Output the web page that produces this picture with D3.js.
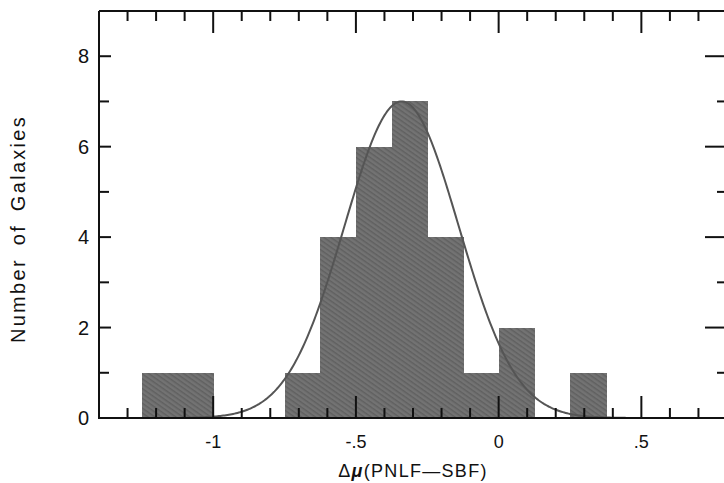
<!DOCTYPE html>
<html lang="en">
<head>
<meta charset="UTF-8">
<title>PNLF - SBF</title>
<style>
  body { margin: 0; background: #fff; }
  text { font-family: "Liberation Sans", Arial, sans-serif; fill: #111; }
</style>
</head>
<body>
<svg width="724" height="483"></svg>
<script src="https://d3js.org/d3.v7.min.js"></script>
<script>
// histogram bins (left edge, right edge) and counts
var binStart = [-1.25, -1.125, -0.75, -0.625, -0.5, -0.375, -0.25, -0.125, 0, 0.25];
var binEnd   = [-1.125, -1.0, -0.625, -0.5, -0.375, -0.25, -0.125, 0, 0.125, 0.375];
var counts   = [1, 1, 1, 4, 6, 7, 4, 1, 2, 1];

// gaussian fit
var gaussMean = -0.34, gaussSigma = 0.2, gaussPeak = 7;

var xTickLabels = ["-1", "-.5", "0", ".5"];
var xTickValues = [-1, -0.5, 0, 0.5];
var yTickValues = [0, 2, 4, 6, 8];

var svg = d3.select("svg");
// plot box (don't use "top" as a global name, it clashes with window.top)
var pL = 99, pR = 727, pT = 11, pB = 418;

var x = d3.scaleLinear().domain([-1.4, 0.8]).range([pL, pR]);
var y = d3.scaleLinear().domain([0, 9]).range([pB, pT]);

// halftone-ish texture for bars
var defs = svg.append("defs");
var pat = defs.append("pattern")
  .attr("id", "tex").attr("patternUnits", "userSpaceOnUse")
  .attr("width", 4).attr("height", 4)
  .attr("patternTransform", "rotate(35)");
pat.append("rect").attr("width", 4).attr("height", 4).attr("fill", "#737373");
pat.append("rect").attr("width", 4).attr("height", 1.5).attr("fill", "#606060");

// bars (slight overlap so neighbours don't show a seam)
svg.append("g").selectAll("rect")
  .data(counts)
  .join("rect")
  .attr("x", function(d, i) { return Math.round(x(binStart[i])); })
  .attr("width", function(d, i) { return Math.round(x(binEnd[i])) - Math.round(x(binStart[i])) + 1; })
  .attr("y", function(d) { return Math.round(y(d)); })
  .attr("height", function(d) { return pB - Math.round(y(d)); })
  .attr("shape-rendering", "crispEdges")
  .attr("fill", "url(#tex)");

// gaussian curve
var gx = d3.range(-1.1, 0.45, 0.005);
var line = d3.line()
  .x(function(d) { return x(d); })
  .y(function(d) { return y(gaussPeak * Math.exp(-Math.pow(d - gaussMean, 2) / (2 * gaussSigma * gaussSigma))); });
svg.append("path")
  .datum(gx)
  .attr("d", line)
  .attr("fill", "none")
  .attr("stroke", "#555")
  .attr("stroke-width", 2);

// frame
var frame = svg.append("g").attr("stroke", "#111").attr("stroke-width", 2).attr("fill", "none");
frame.append("path").attr("d", "M" + pL + "," + pT + "V" + pB + "H" + pR + "V" + pT + "H" + pL);

// x ticks (every 0.1, major at 0.5)
d3.range(-14, 9).map(function(k) { return k / 10; }).forEach(function(v) {
  var major = Math.abs(v * 2 - Math.round(v * 2)) < 1e-6;
  var len = major ? 22 : 10;
  var px = x(v);
  if (px <= pL + 1 || px >= pR - 1) return;
  frame.append("line").attr("x1", px).attr("x2", px).attr("y1", pB).attr("y2", pB - len);
  frame.append("line").attr("x1", px).attr("x2", px).attr("y1", pT).attr("y2", pT + len);
});

// y ticks (every 1, major at 2)
d3.range(1, 9).forEach(function(v) {
  var major = v % 2 === 0;
  var py = y(v);
  frame.append("line").attr("x1", pL).attr("x2", pL + (major ? 12 : 10)).attr("y1", py).attr("y2", py);
  frame.append("line").attr("x1", pR).attr("x2", pR - (major ? 22 : 10)).attr("y1", py).attr("y2", py);
});

// tick labels
svg.append("g").selectAll("text")
  .data(xTickValues)
  .join("text")
  .attr("x", function(d) { return x(d); })
  .attr("y", 448)
  .attr("text-anchor", "middle")
  .attr("font-size", 18)
  .text(function(d, i) { return xTickLabels[i]; });

svg.append("g").selectAll("text")
  .data(yTickValues)
  .join("text")
  .attr("x", 89)
  .attr("y", function(d) { return y(d) + 7; })
  .attr("text-anchor", "end")
  .attr("font-size", 20)
  .text(function(d) { return d; });

// axis titles
var xt = svg.append("text")
  .attr("x", (pL + pR) / 2)
  .attr("y", 477)
  .attr("text-anchor", "middle")
  .attr("font-size", 18)
  .attr("letter-spacing", 1.3);
xt.append("tspan").text("Δ");
xt.append("tspan").attr("font-style", "italic").attr("font-weight", "bold").text("μ");
xt.append("tspan").text("(PNLF—SBF)");

svg.append("text")
  .attr("transform", "translate(25,229) rotate(-90)")
  .attr("text-anchor", "middle")
  .attr("font-size", 20)
  .attr("letter-spacing", 2.3)
  .attr("word-spacing", 5)
  .text("Number of Galaxies");
</script>
</body>
</html>
